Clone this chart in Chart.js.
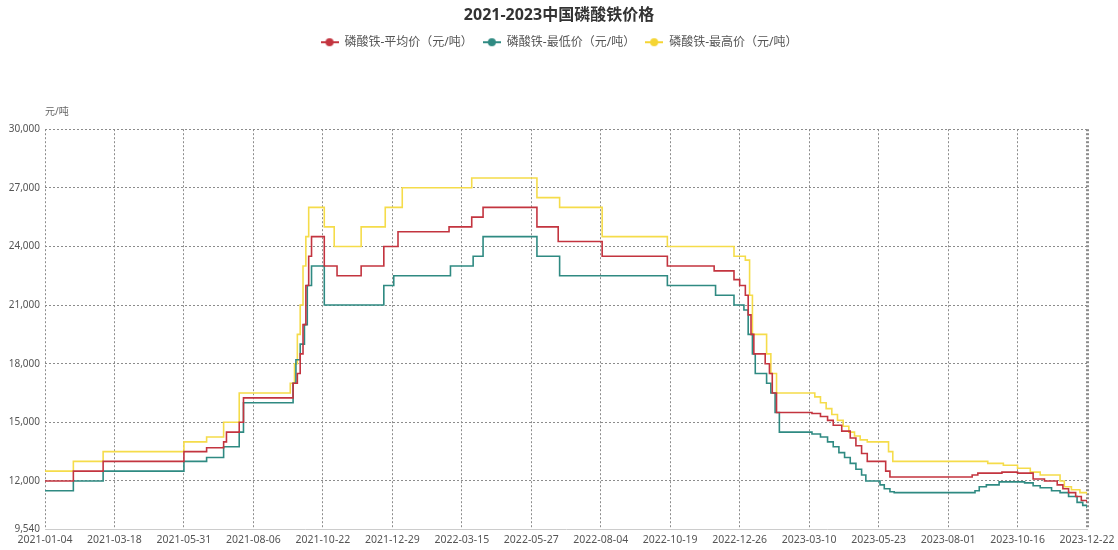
<!DOCTYPE html>
<html>
<head>
<meta charset="utf-8">
<script src="https://cdn.jsdelivr.net/npm/chart.js@4.4.0/dist/chart.umd.min.js"></script>
<style>
  html, body { margin: 0; padding: 0; background: #fff; }
  #wrap { width: 1118px; height: 550px; }
</style>
</head>
<body>
<div id="wrap"><canvas id="priceChart"></canvas></div>
<script>
// x axis: trading-day index, one label every 49 days
var xLabels = ['2021-01-04', '2021-03-18', '2021-05-31', '2021-08-06', '2021-10-22', '2021-12-29',
               '2022-03-15', '2022-05-27', '2022-08-04', '2022-10-19', '2022-12-26', '2023-03-10',
               '2023-05-23', '2023-08-01', '2023-10-16', '2023-12-22'];
var dayStep = 49;
var yTicks = [9540, 12000, 15000, 18000, 21000, 24000, 27000, 30000];

// each point = day the price changed, new price (元/吨)
var avgDays = [0, 20, 41, 98, 114, 126, 128, 137, 140,
               175, 178, 180, 182, 184, 186, 188,
               197, 206, 223, 239, 249, 285, 301, 309, 347, 362, 393, 439, 472, 486, 490, 494, 496, 498, 500, 508, 511, 513, 516,
               541, 547, 552, 556, 562, 568, 572, 576, 580,
               593, 596, 654, 658, 675, 686, 697, 705, 714, 718, 722, 727, 731, 735];
var avgPrices = [12000, 12500, 13000, 13500, 13700, 14000, 14500, 15000, 16250,
                 17000, 17500, 18500, 20000, 22000, 23500, 24500,
                 23000, 22500, 23000, 24000, 24750, 25000, 25500, 26000, 25000, 24250, 23500, 23000, 22750, 22300, 22000, 21500, 20500, 19500, 18500, 18000, 17500, 16500, 15500,
                 15450, 15300, 15100, 14850, 14550, 14200, 13800, 13400, 13000,
                 12500, 12200, 12300, 12400, 12450, 12400, 12100, 12000, 11800, 11600, 11400, 11200, 11000, 10900];

var minDays = [0, 20, 41, 98, 114, 126, 137, 140,
               175, 177, 180, 183, 185, 188,
               197, 239, 246, 286, 302, 309, 347, 363, 439, 473, 486, 493, 496, 499, 501, 509, 512, 515, 518,
               541, 547, 552, 556, 560, 564, 568, 572, 576, 579,
               589, 592, 596, 599, 656, 659, 664, 673, 691, 697, 702, 710, 716, 722, 728, 732, 735];
var minPrices = [11500, 12000, 12500, 13000, 13200, 13750, 14500, 16000,
                 17000, 18200, 19000, 20000, 22000, 23000,
                 21000, 22000, 22500, 23000, 23500, 24500, 23500, 22500, 22000, 21500, 21000, 20750, 19500, 18500, 17500, 17000, 16500, 15500, 14500,
                 14400, 14250, 14000, 13750, 13450, 13200, 12900, 12600, 12300, 12000,
                 11800, 11600, 11450, 11400, 11500, 11700, 11800, 11950, 11900, 11750, 11650, 11500, 11400, 11200, 10900, 10750, 10600];

var maxDays = [0, 20, 41, 98, 114, 126, 137,
               173, 176, 178, 180, 182, 184, 186,
               197, 204, 223, 240, 252, 301, 347, 363, 393, 439, 486, 494, 497, 499, 509, 512, 516,
               543, 547, 551, 555, 559, 563, 567, 571, 575, 580,
               595, 598, 665, 676, 686, 695, 702, 716, 719, 724, 730, 735];
var maxPrices = [12500, 13000, 13500, 14000, 14250, 15000, 16500,
                 17000, 18000, 19500, 21000, 23000, 24500, 26000,
                 25000, 24000, 25000, 26000, 27000, 27500, 26500, 26000, 24500, 24000, 23500, 23300, 21500, 19500, 18500, 17500, 16500,
                 16300, 16000, 15700, 15400, 15100, 14800, 14500, 14300, 14100, 14000,
                 13500, 13000, 12900, 12800, 12650, 12450, 12300, 12000, 11700, 11550, 11400, 11300];

function toPoints(days, prices) {
    return days.map(function (d, i) { return { x: d, y: prices[i] }; });
}

// legend marker: short line with a dot in the middle
function legendIcon(color) {
    var c = document.createElement('canvas');
    c.width = 18; c.height = 10;
    var g = c.getContext('2d');
    g.strokeStyle = color; g.lineWidth = 2;
    g.beginPath(); g.moveTo(0, 5); g.lineTo(18, 5); g.stroke();
    g.fillStyle = color;
    g.beginPath(); g.arc(9, 5, 4, 0, Math.PI * 2); g.fill();
    return c;
}

Chart.defaults.font.family = "'Noto Sans', 'Noto Sans CJK SC', sans-serif";
Chart.defaults.color = '#555';

var gridColor = '#8c8c8c';

var ctx = document.getElementById('priceChart').getContext('2d');
var chart = new Chart(ctx, {
    type: 'line',
    data: {
        datasets: [{
            label: '磷酸铁-平均价（元/吨）',
            data: toPoints(avgDays, avgPrices),
            borderColor: '#c3343f',
            pointStyle: legendIcon('#c3343f')
        }, {
            label: '磷酸铁-最低价（元/吨）',
            data: toPoints(minDays, minPrices),
            borderColor: '#2f8a82',
            pointStyle: legendIcon('#2f8a82')
        }, {
            label: '磷酸铁-最高价（元/吨）',
            data: toPoints(maxDays, maxPrices),
            borderColor: '#f5dc4a',
            pointStyle: legendIcon('#f5d533')
        }]
    },
    options: {
        responsive: true,
        maintainAspectRatio: false,
        animation: false,
        events: [],
        datasets: {
            line: { stepped: true, fill: false, borderWidth: 1.6, pointRadius: 0, pointHoverRadius: 0 }
        },
        layout: { padding: 0 },
        plugins: {
            title: {
                display: true,
                text: '2021-2023中国磷酸铁价格',
                color: '#333',
                font: { size: 16, weight: 'bold' },
                padding: { top: 6, bottom: 1 }
            },
            legend: {
                display: true,
                labels: { usePointStyle: true, pointStyleWidth: 18, font: { size: 12 }, color: '#555', padding: 10 }
            },
            // unit label above the y axis
            subtitle: {
                display: true,
                text: '元/吨',
                align: 'start',
                fullSize: false,
                weight: 500,
                color: '#666',
                font: { size: 10 },
                padding: { top: 48, bottom: 11 }
            },
            tooltip: { enabled: false }
        },
        scales: {
            x: {
                type: 'linear',
                min: 0,
                max: dayStep * (xLabels.length - 1),
                afterBuildTicks: function (axis) {
                    axis.ticks = xLabels.map(function (l, i) { return { value: i * dayStep }; });
                },
                afterFit: function (axis) { axis.height = 21; axis.paddingRight = 31; },
                ticks: {
                    autoSkip: false, maxRotation: 0, padding: 5,
                    font: { size: 10.5 }, color: '#555',
                    callback: function (v, i) { return xLabels[i]; }
                },
                grid: {
                    drawTicks: false,
                    color: gridColor,
                    lineWidth: function (c) { return c.index === xLabels.length - 1 ? 3 : 1; }
                },
                border: { display: true, color: '#ccc', dash: [2, 2] }
            },
            y: {
                min: yTicks[0],
                max: yTicks[yTicks.length - 1],
                afterBuildTicks: function (axis) {
                    axis.ticks = yTicks.map(function (v) { return { value: v }; });
                },
                afterFit: function (axis) { axis.width = 45; },
                ticks: {
                    padding: 5, font: { size: 10 }, color: '#555',
                    callback: function (v) { return v.toLocaleString('en-US'); }
                },
                grid: {
                    drawTicks: false,
                    color: function (c) { return c.tick && c.tick.value === yTicks[0] ? 'rgba(0,0,0,0)' : gridColor; }
                },
                border: { display: false, dash: [2, 2] }
            }
        }
    }
});
</script>
</body>
</html>
